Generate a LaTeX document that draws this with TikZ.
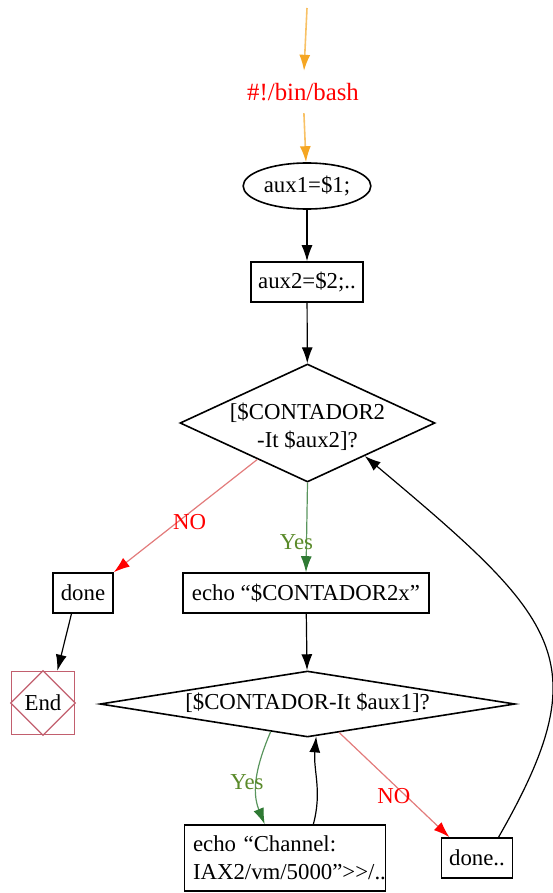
\documentclass[tikz,border=0pt]{standalone}
\usepackage{fontspec}
\setmainfont{Liberation Serif}
\usepackage{tikz}
\usepackage{xcolor}
\usetikzlibrary{positioning,shapes.geometric,arrows.meta}
\definecolor{flow}{HTML}{F5A623}
\definecolor{nored}{HTML}{FF0000}
\definecolor{noline}{HTML}{E27B7B}
\definecolor{yesline}{HTML}{2F7A34}
\definecolor{yestext}{HTML}{5A8A2A}
\definecolor{endred}{HTML}{C25F6E}

\begin{document}
\begin{tikzpicture}[x=0.5pt, y=-0.5pt, font=\fontsize{11.4}{14}\selectfont,
    box/.style={rectangle, draw, line width=0.8pt, minimum height=20pt, inner sep=2pt},
    cond/.style={diamond, draw, line width=0.8pt, inner sep=0pt},
    tip/.style={-{Latex[length=8pt,width=5.5pt]}, line width=0.6pt},
    flowtip/.style={-{Latex[length=8pt,width=5.5pt,color=flow]}, draw=flow!70, line width=0.8pt},
    notip/.style={-{Latex[length=8pt,width=5.5pt,color=nored]}, draw=noline, line width=0.6pt},
    yestip/.style={-{Latex[length=8pt,width=5.5pt,color=yesline]}, draw=yesline!80, line width=0.6pt}]
      \useasboundingbox (0,0) rectangle (552,893);
      %\draw [dotted] (0,0) grid [step=50pt] (552,893);
      \coordinate                                 (top) at (307,   8);
      \node [text=nored, inner sep=6pt, font=\fontsize{12.4}{14}\selectfont]
                                                 (bash) at (303,  92) {\#!/bin/bash};
      \node [ellipse, draw, line width=0.8pt, minimum width=56pt, minimum height=23pt, inner sep=1pt]
                                                   (a1) at (307, 186) {aux1=\$1;};
      \node [box, minimum width=56pt]              (a2) at (307, 282) {aux2=\$2;..};
      \node [cond, minimum width=127.5pt, minimum height=59pt] (q1) at (307.5, 423) {};
      \node [align=center]                        (q1t) at (307.5, 427) {[\$CONTADOR2\\-It \$aux2]?};
      \node [box, minimum width=30pt]            (done) at ( 83, 593) {done};
      \node [box, minimum width=123pt]           (echo) at (306, 593) {echo “\$CONTADOR2x”};
      \node [rectangle, draw=endred, line width=0.8pt, minimum size=31.5pt, inner sep=0pt]
                                                 (endn) at ( 43, 703) {End};
      \node [cond, minimum width=207.5pt, minimum height=33pt] (q2) at (307.5, 704) {};
      \node                                       (q2t) at (307.5, 703) {[\$CONTADOR-It \$aux1]?};
      \node [box, minimum width=100.5pt, minimum height=33pt, align=left, text width=92pt]
                                                   (ch) at (285, 858) {echo “Channel:\\IAX2/vm/5000”>\kern0pt>/..};
      \node [box, minimum width=35.5pt]         (done2) at (477, 858) {done..};
      \draw [endred, line width=0.6pt] (endn.north) -- (endn.east) -- (endn.south) -- (endn.west) -- cycle;
      \draw [flowtip] (top) -- (bash);
      \draw [flowtip] (bash) -- (a1);
      \draw [tip] (a1) -- (a2);
      \draw [tip] (a2) -- (q1);
      \draw [notip] (q1.216) -- (done.north east)
            node [pos=0.5, xshift=2pt, yshift=-3pt, text=nored] {NO};
      \draw [yestip] (q1.south) -- (echo.north)
            node [pos=0.66, xshift=-5pt, text=yestext] {Yes};
      \draw [tip] (done.241) -- (endn.66);
      \draw [tip] (echo) -- (q2);
      \draw [yestip] (q2.217) to [out=247, in=112]
            node [pos=0.55, xshift=-5pt, text=yestext] {Yes} (ch.121);
      \draw [tip] (ch.50) to [out=75, in=265] (q2.285);
      \draw [notip] (q2.318) -- (done2.143)
            node [pos=0.55, xshift=-3pt, yshift=-3pt, text=nored] {NO};
      \draw [tip] (done2.44) .. controls (600,660) and (560,620) .. (q1.330);
      \end{tikzpicture}
\end{document}
